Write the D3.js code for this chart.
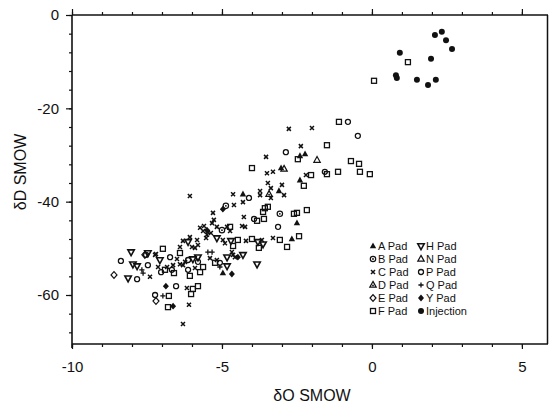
<!DOCTYPE html>
<html>
<head>
<meta charset="utf-8">
<script src="https://cdn.jsdelivr.net/npm/d3@7"></script>
<style>
  body { margin: 0; background: #fff; }
  text { font-family: "Liberation Sans", Arial, sans-serif; fill: #111; }
</style>
</head>
<body>
<svg id="chart" width="549" height="407"></svg>
<script>
// values, [dO, dD]
var aPad = [[-2.23,-29.8],[-2.4,-30.2],[-3.03,-32.8],[-2.4,-35.4],[-3.1,-37.7],[-4.3,-38.4],[-2.5,-44.6],[-2.67,-48.0],[-4.97,-55.3]];
var bPad = [[-4.87,-40.9],[-3.07,-42.6],[-5.0,-46.1]];
var cPad = [[-2.77,-24.4],[-2.0,-24.2],[-2.37,-28.1],[-3.53,-30.4],[-3.5,-33.9],[-3.3,-33.6],[-2.2,-34.3],[-3.47,-36.0],
  [-3.37,-37.1],[-3.0,-36.4],[-2.93,-38.6],[-3.73,-37.7],[-3.37,-39.2],[-4.63,-38.4],[-4.3,-40.1],[-4.6,-40.7],
  [-6.07,-38.8],[-3.73,-38.6],[-5.3,-42.4],[-4.27,-43.3],[-5.27,-43.9],[-5.33,-44.6],[-4.33,-45.2],[-4.23,-45.4],
  [-4.83,-45.4],[-4.73,-46.3],[-5.6,-45.2],[-5.17,-45.4],[-5.73,-45.6],[-5.47,-46.5],[-5.63,-46.3],[-5.37,-46.7],
  [-5.5,-47.1],[-3.3,-47.8],[-3.67,-48.2],[-4.2,-48.4],[-4.97,-48.2],[-5.53,-47.8],[-5.83,-48.2],[-6.07,-47.6],
  [-6.3,-48.4],[-5.8,-49.3],[-6.4,-49.7],[-5.9,-49.9],[-6.0,-49.7],[-4.9,-48.9],[-7.23,-51.4],[-7.2,-51.2],
  [-7.13,-54.0],[-6.83,-54.0],[-6.5,-52.3],[-6.63,-53.6],[-6.4,-53.4],[-6.3,-53.6],[-6.23,-52.9],[-5.9,-54.2],
  [-5.4,-52.1],[-5.17,-52.5],[-4.67,-50.8],[-4.63,-51.4],[-4.57,-51.9],[-6.17,-58.5],[-6.1,-62.1],[-6.3,-66.2],[-7.4,-56.1]];
var dPad = [[-3.43,-38.4]];
var ePad = [[-8.6,-55.7],[-7.57,-51.4],[-7.2,-61.3]];
var fPad = [[1.2,-10.1],[0.07,-14.1],[-1.1,-22.9],[-1.5,-27.9],[-2.47,-30.9],[-0.7,-31.3],[-0.43,-31.9],[-4.0,-32.8],
  [-1.5,-34.1],[-1.13,-33.6],[-0.4,-33.6],[-0.07,-34.1],[-2.03,-34.3],[-2.27,-36.6],[-3.57,-41.4],[-3.47,-41.1],
  [-3.63,-42.2],[-2.6,-42.6],[-2.5,-42.4],[-2.17,-41.8],[-3.83,-44.1],[-3.6,-43.7],[-4.73,-45.4],[-2.43,-47.4],
  [-3.07,-48.2],[-4.0,-48.0],[-4.47,-48.2],[-4.63,-49.5],[-2.83,-49.7],[-3.77,-49.9],[-6.97,-50.1],[-6.4,-51.0],
  [-6.9,-54.6],[-6.6,-55.3],[-6.07,-55.9],[-5.73,-55.1],[-5.63,-54.0],[-5.23,-53.1],[-5.97,-58.7],[-5.8,-58.1],
  [-6.03,-59.8],[-6.77,-60.2],[-6.8,-62.6]];
var hPad = [[-8.03,-50.8],[-8.13,-56.4],[-7.97,-53.4],[-7.83,-53.8],[-7.47,-51.0],[-7.07,-52.5],[-5.97,-52.3],
  [-5.8,-51.9],[-4.83,-51.9],[-4.83,-53.8],[-4.3,-51.4],[-3.83,-53.4],[-4.7,-48.4],[-5.17,-47.8],[-6.13,-48.6],
  [-3.8,-48.6],[-3.63,-49.1]];
var nPad = [[-1.83,-31.1],[-2.93,-33.0]];
var pPad = [[-0.8,-22.9],[-0.47,-25.9],[-2.87,-29.4],[-1.57,-33.6],[-4.1,-39.2],[-3.93,-43.7],[-3.13,-45.4],
  [-8.37,-52.7],[-7.83,-56.6],[-7.53,-51.4],[-7.47,-53.6],[-6.73,-51.9],[-7.03,-55.1],[-6.67,-54.6],[-6.13,-54.6],
  [-5.8,-52.9],[-5.07,-53.1],[-6.13,-52.5],[-6.53,-58.1],[-7.23,-60.0]];
var qPad = [[-7.63,-55.3],[-7.67,-54.6],[-6.97,-60.2],[-5.47,-50.8],[-5.33,-50.8],[-5.07,-54.0]];
var yPad = [[-6.87,-58.1],[-6.63,-62.4],[-4.67,-55.5],[-4.47,-51.9],[-5.5,-46.1],[-4.97,-41.6]];
var injection = [[2.1,-4.3],[2.33,-3.6],[2.47,-5.4],[2.67,-7.3],[0.93,-8.1],[1.97,-9.4],[0.8,-12.9],[0.83,-13.5],
  [1.5,-13.9],[1.87,-15.0],[2.13,-13.9]];

var xTickLabels = [-10, -5, 0, 5];
var yTickLabels = [0, -20, -40, -60];
var legendLeft = ["A Pad", "B Pad", "C Pad", "D Pad", "E Pad", "F Pad"];
var legendRight = ["H Pad", "N Pad", "P Pad", "Q Pad", "Y Pad", "Injection"];

var series = [
  { name: "A Pad", type: "triFill", pts: aPad },
  { name: "B Pad", type: "circDot", pts: bPad },
  { name: "C Pad", type: "times", pts: cPad },
  { name: "D Pad", type: "triDot", pts: dPad },
  { name: "E Pad", type: "diamond", pts: ePad },
  { name: "F Pad", type: "square", pts: fPad },
  { name: "H Pad", type: "triDown", pts: hPad },
  { name: "N Pad", type: "triOpen", pts: nPad },
  { name: "P Pad", type: "circle", pts: pPad },
  { name: "Q Pad", type: "plus", pts: qPad },
  { name: "Y Pad", type: "diamondFill", pts: yPad },
  { name: "Injection", type: "dot", pts: injection }
];

var svg = d3.select("#chart");
svg.append("rect").attr("width", 549).attr("height", 407).attr("fill", "#fff");

var x = d3.scaleLinear().domain([-10, 5.87]).range([72, 548]);
var y = d3.scaleLinear().domain([0, -70.5]).range([15, 344]);

// plain hyphen, like the scan
var hyphen = function (d) { return String(d); };

// draws one marker centred at 0,0 inside g
function marker(g, type) {
  var tri = "M0,-3.6L3.2,2.2L-3.2,2.2Z";
  var triD = "M0,3.6L3.2,-2.2L-3.2,-2.2Z";
  var dia = "M0,-3.4L3,0L0,3.4L-3,0Z";
  if (type == "triFill") g.append("path").attr("d", tri).attr("fill", "#111");
  else if (type == "triOpen") g.append("path").attr("d", tri).attr("fill", "none").attr("stroke", "#111").attr("stroke-width", 1.2);
  else if (type == "triDot") {
    g.append("path").attr("d", tri).attr("fill", "none").attr("stroke", "#111").attr("stroke-width", 1.2);
    g.append("circle").attr("r", 0.9).attr("cy", 0.4).attr("fill", "#111");
  }
  else if (type == "triDown") g.append("path").attr("d", triD).attr("fill", "none").attr("stroke", "#111").attr("stroke-width", 1.6);
  else if (type == "circle") g.append("circle").attr("r", 2.5).attr("fill", "none").attr("stroke", "#111").attr("stroke-width", 1.3);
  else if (type == "circDot") {
    g.append("circle").attr("r", 2.7).attr("fill", "none").attr("stroke", "#111").attr("stroke-width", 1.2);
    g.append("circle").attr("r", 0.9).attr("fill", "#111");
  }
  else if (type == "square") g.append("rect").attr("x", -2.5).attr("y", -2.5).attr("width", 5).attr("height", 5)
    .attr("fill", "none").attr("stroke", "#111").attr("stroke-width", 1.3);
  else if (type == "diamond") g.append("path").attr("d", dia).attr("fill", "none").attr("stroke", "#111").attr("stroke-width", 1.2);
  else if (type == "diamondFill") g.append("path").attr("d", dia).attr("fill", "#111");
  else if (type == "times") g.append("path").attr("d", "M-2,-2L2,2M-2,2L2,-2").attr("stroke", "#111").attr("stroke-width", 1.5);
  else if (type == "plus") g.append("path").attr("d", "M-2.6,0H2.6M0,-2.6V2.6").attr("stroke", "#111").attr("stroke-width", 1.3);
  else if (type == "dot") g.append("circle").attr("r", 3).attr("fill", "#111");
}

// axes
var axisColor = "#111";
function styleAxis(g) {
  g.selectAll("path.domain").remove();
  g.selectAll("line").attr("stroke", axisColor).attr("stroke-width", 1.2);
  g.selectAll("text").style("font-size", "15px").attr("fill", "#111");
}

var yMinor = d3.range(0, -70, -4);
var xMinor = d3.range(-10, 6, 1);

svg.append("g").attr("transform", "translate(72,0)")
  .call(d3.axisLeft(y).tickValues(yMinor).tickSize(3).tickFormat(""))
  .call(styleAxis);
svg.append("g").attr("transform", "translate(72,0)")
  .call(d3.axisLeft(y).tickValues(yTickLabels).tickSize(6).tickPadding(7).tickFormat(hyphen))
  .call(styleAxis);

svg.append("g").attr("transform", "translate(0,344)")
  .call(d3.axisBottom(x).tickValues(xMinor).tickSize(3).tickFormat(""))
  .call(styleAxis);
svg.append("g").attr("transform", "translate(0,344)")
  .call(d3.axisBottom(x).tickValues(xTickLabels).tickSize(5).tickPadding(12).tickFormat(hyphen))
  .call(styleAxis);

svg.append("g").attr("transform", "translate(0,15)")
  .call(d3.axisTop(x).tickValues(xMinor).tickSize(3).tickFormat(""))
  .call(styleAxis);
svg.append("g").attr("transform", "translate(0,15)")
  .call(d3.axisTop(x).tickValues(xTickLabels).tickSize(6).tickFormat(""))
  .call(styleAxis);

// frame lines
svg.append("line").attr("x1", 72).attr("x2", 72).attr("y1", 15).attr("y2", 348).attr("stroke", axisColor).attr("stroke-width", 1.6);
svg.append("line").attr("x1", 72).attr("x2", 548).attr("y1", 344).attr("y2", 344).attr("stroke", axisColor).attr("stroke-width", 1.5);
svg.append("line").attr("x1", 72).attr("x2", 548).attr("y1", 15).attr("y2", 15).attr("stroke", axisColor).attr("stroke-width", 1.5);
svg.append("line").attr("x1", 547.5).attr("x2", 547.5).attr("y1", 15).attr("y2", 344).attr("stroke", axisColor).attr("stroke-width", 1.5);

// axis titles
svg.append("text").attr("x", 312).attr("y", 401).attr("text-anchor", "middle")
  .style("font-size", "16px").text("δO SMOW");
svg.append("text").attr("transform", "translate(26,172) rotate(-90)").attr("text-anchor", "middle")
  .style("font-size", "16px").text("δD SMOW");

// points
var plot = svg.append("g");
series.forEach(function (s) {
  s.pts.forEach(function (p) {
    var g = plot.append("g").attr("transform", "translate(" + x(p[0]) + "," + y(p[1]) + ")");
    marker(g, s.type);
  });
});

// legend
var legend = svg.append("g");
function legendColumn(labels, sx) {
  for (var i = 0; i < labels.length; i++) {
    var s = series.find(function (d) { return d.name == labels[i]; });
    var row = legend.append("g").attr("transform", "translate(" + sx + "," + (246 + i * 13) + ")");
    marker(row.append("g").attr("transform", "translate(-1,0)"), s.type);
    row.append("text").attr("x", 4).attr("dy", "0.36em").style("font-size", "11px").text(labels[i]);
  }
}
legendColumn(legendLeft, 374);
legendColumn(legendRight, 422);
</script>
</body>
</html>
